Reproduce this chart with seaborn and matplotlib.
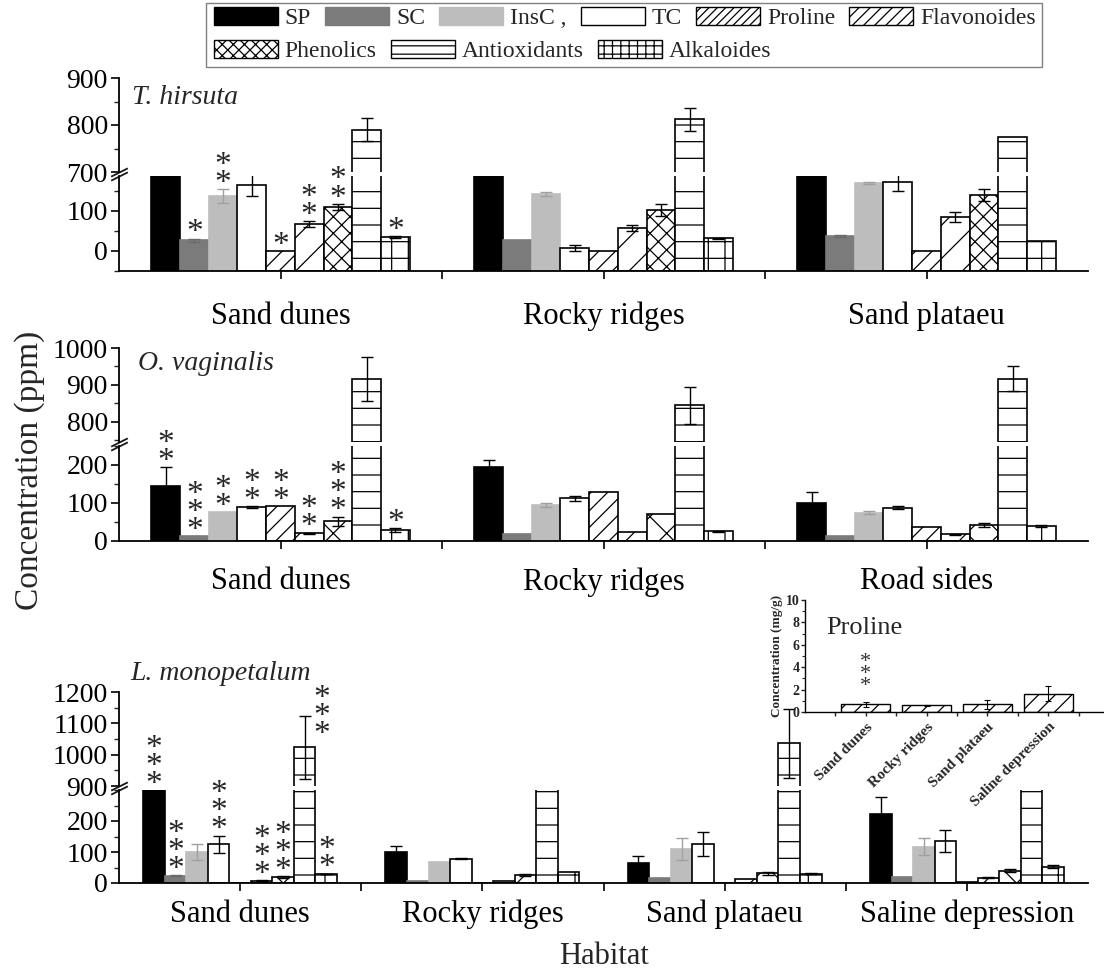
import numpy as np
import pandas as pd
import matplotlib
matplotlib.use("Agg")
import matplotlib.pyplot as plt
import seaborn as sns
from matplotlib.patches import Patch, Rectangle
from matplotlib.ticker import MultipleLocator

# ---------------- data ----------------
variables = ["SP", "SC", "InsC", "TC", "Proline", "Flavonoides",
             "Phenolics", "Antioxidants", "Alkaloides"]
legend_labels = ["SP", "SC", "InsC ,", "TC", "Proline", "Flavonoides",
                 "Phenolics", "Antioxidants", "Alkaloides"]

# T. hirsuta
habitats_th = ["Sand dunes", "Rocky ridges", "Sand plataeu"]
th_SP = [300, 300, 300]
th_SC = [27, 27, 37]
th_InsC = [137, 142, 170]
th_TC = [165, 8, 172]
th_Proline = [0, 1, 0]
th_Flav = [67, 57, 85]
th_Phen = [110, 102, 140]
th_Antiox = [790, 812, 775]
th_Alk = [35, 32, 25]
th_SP_err = [0, 0, 0]
th_SC_err = [4, 0, 2]
th_InsC_err = [18, 5, 2]
th_TC_err = [28, 8, 22]
th_Proline_err = [0, 0, 0]
th_Flav_err = [7, 8, 12]
th_Phen_err = [8, 15, 15]
th_Antiox_err = [25, 25, 0]
th_Alk_err = [2, 1, 0]

# O. vaginalis
habitats_ov = ["Sand dunes", "Rocky ridges", "Road sides"]
ov_SP = [145, 195, 100]
ov_SC = [13, 18, 13]
ov_InsC = [76, 95, 75]
ov_TC = [89, 112, 88]
ov_Proline = [92, 128, 37]
ov_Flav = [20, 23, 18]
ov_Phen = [52, 70, 42]
ov_Antiox = [915, 845, 917]
ov_Alk = [29, 26, 40]
ov_SP_err = [50, 18, 28]
ov_SC_err = [0, 0, 0]
ov_InsC_err = [0, 6, 3]
ov_TC_err = [3, 7, 4]
ov_Proline_err = [0, 0, 0]
ov_Flav_err = [2, 0, 1]
ov_Phen_err = [12, 0, 5]
ov_Antiox_err = [60, 50, 35]
ov_Alk_err = [5, 1, 2]

# L. monopetalum
habitats_lm = ["Sand dunes", "Rocky ridges", "Sand plataeu", "Saline depression"]
lm_SP = [500, 101, 66, 221]
lm_SC = [23, 8, 16, 18]
lm_InsC = [100, 67, 110, 117]
lm_TC = [125, 78, 126, 135]
lm_Proline = [0, 0, 0, 4]
lm_Flav = [8, 7, 13, 17]
lm_Phen = [18, 27, 31, 40]
lm_Antiox = [1023, 600, 1037, 600]
lm_Alk = [29, 34, 30, 53]
lm_SP_err = [0, 18, 20, 55]
lm_SC_err = [2, 0, 0, 0]
lm_InsC_err = [27, 0, 35, 28]
lm_TC_err = [28, 2, 40, 35]
lm_Proline_err = [0, 0, 0, 0]
lm_Flav_err = [1, 0, 0, 2]
lm_Phen_err = [3, 3, 4, 4]
lm_Antiox_err = [100, 0, 110, 0]
lm_Alk_err = [1, 0, 1, 5]

# Inset: proline (mg/g) for L. monopetalum
inset_habitats = ["Sand dunes", "Rocky ridges", "Sand plataeu", "Saline depression"]
inset_proline = [0.69, 0.6, 0.69, 1.64]
inset_proline_err = [0.2, 0.05, 0.4, 0.7]

# significance stars: (habitat, variable, number of stars)
stars_th = [("Sand dunes", "SC", 1), ("Sand dunes", "InsC", 2), ("Sand dunes", "Proline", 1),
            ("Sand dunes", "Flavonoides", 2), ("Sand dunes", "Phenolics", 2),
            ("Sand dunes", "Alkaloides", 1)]
stars_ov = [("Sand dunes", "SP", 2), ("Sand dunes", "SC", 3), ("Sand dunes", "InsC", 2),
            ("Sand dunes", "TC", 2), ("Sand dunes", "Proline", 2), ("Sand dunes", "Flavonoides", 2),
            ("Sand dunes", "Phenolics", 3), ("Sand dunes", "Alkaloides", 1)]
stars_lm = [("Sand dunes", "SP", 3), ("Sand dunes", "SC", 3), ("Sand dunes", "TC", 3),
            ("Sand dunes", "Flavonoides", 3), ("Sand dunes", "Phenolics", 3),
            ("Sand dunes", "Antioxidants", 3), ("Sand dunes", "Alkaloides", 2)]
stars_inset = [("Sand dunes", 3)]

# ---------------- style ----------------
sns.set_theme(style="ticks")
plt.rcParams["font.family"] = ["Liberation Serif", "DejaVu Serif"]
plt.rcParams["hatch.linewidth"] = 0.9
plt.rcParams["axes.linewidth"] = 1.3
plt.rcParams["axes.edgecolor"] = "black"

styles = {
    "SP": dict(fc="black", ec="black", hatch=None, err="black"),
    "SC": dict(fc="#7b7b7b", ec="#7b7b7b", hatch=None, err="#6a6a6a"),
    "InsC": dict(fc="#bdbdbd", ec="#bdbdbd", hatch=None, err="#a0a0a0"),
    "TC": dict(fc="white", ec="black", hatch=None, err="black"),
    "Proline": dict(fc="white", ec="black", hatch="//", err="black"),
    "Flavonoides": dict(fc="white", ec="black", hatch="/", err="black"),
    "Phenolics": dict(fc="white", ec="black", hatch="xx", err="black"),
    "Antioxidants": dict(fc="white", ec="black", hatch="-", err="black"),
    "Alkaloides": dict(fc="white", ec="black", hatch="+", err="black"),
}
palette = {v: styles[v]["fc"] for v in variables}

W, H = 1104, 973
fig = plt.figure(figsize=(W / 100, H / 100), dpi=100)
fig.patch.set_facecolor("white")

XL, XR = 119, 1088
STAR_FS = 24
STAR_LS = 0.47


def add_ax(x0, x1, y0, y1):
    return fig.add_axes([x0 / W, 1 - y1 / H, (x1 - x0) / W, (y1 - y0) / H])


def build_df(habitats, vals):
    rows = []
    for v in variables:
        for i, h in enumerate(habitats):
            rows.append({"Habitat": h, "Variable": v, "Value": vals[v][i]})
    return pd.DataFrame(rows)


def style_patches(ax, phen_hatch, from_bottom=None):
    step = 0.8 / len(variables)
    centers = {}
    for p in ax.patches:
        xc = p.get_x() + p.get_width() / 2
        hi = int(round(xc))
        j = int(round((xc - hi + 0.4) / step - 0.5))
        var = variables[j]
        st = styles[var]
        p.set_facecolor(st["fc"])
        p.set_edgecolor(st["ec"])
        p.set_linewidth(1.2)
        hatch = phen_hatch if var == "Phenolics" else st["hatch"]
        if hatch:
            p.set_hatch(hatch)
        if from_bottom is not None:
            p.set_y(from_bottom)
            p.set_height(p.get_height() - from_bottom)
        centers[(hi, var)] = xc
    return centers


def draw_panel(ax_up, ax_lo, habitats, vals, errs, ylim_up, ylim_lo, up_major,
               lo_major, stars, phen_hatch="x", bars_from_bottom=False, label_pad=9):
    df = build_df(habitats, vals)
    n = len(habitats)
    centers = None
    for ax, ylim in ((ax_up, ylim_up), (ax_lo, ylim_lo)):
        sns.barplot(data=df, x="Habitat", y="Value", hue="Variable", order=habitats,
                    hue_order=variables, palette=palette, width=0.8, saturation=1,
                    errorbar=None, legend=False, ax=ax)
        fb = ylim_lo[0] if (bars_from_bottom and ax is ax_lo) else None
        centers = style_patches(ax, phen_hatch, fb)
        for var in variables:
            xs, ys, es = [], [], []
            for i in range(n):
                if errs[var][i] > 0:
                    xs.append(centers[(i, var)])
                    ys.append(vals[var][i])
                    es.append(errs[var][i])
            if xs:
                ax.errorbar(xs, ys, yerr=es, fmt="none", ecolor=styles[var]["err"],
                            elinewidth=1.0, capsize=4, capthick=1.0, zorder=5)
        ax.set_xlim(-0.5, n - 0.5)
        ax.set_ylim(*ylim)
        ax.set_xlabel("")
        ax.set_ylabel("")
        ax.spines["top"].set_visible(False)
        ax.spines["right"].set_visible(False)
        ax.yaxis.set_minor_locator(MultipleLocator(50))
        ax.tick_params(axis="y", which="major", direction="out", length=6, width=1.2,
                       labelsize=20, pad=2, colors="black")
        ax.tick_params(axis="y", which="minor", direction="out", length=3.5, width=1.0)
        ax.set_facecolor("none")
    ax_up.set_yticks(up_major)
    ax_lo.set_yticks(lo_major)
    ax_up.spines["bottom"].set_visible(False)
    ax_up.tick_params(axis="x", which="both", bottom=False, labelbottom=False)
    ax_lo.set_xticks(range(n))
    ax_lo.set_xticklabels(habitats)
    ax_lo.set_xticks([i + 0.5 for i in range(n - 1)], minor=True)
    ax_lo.tick_params(axis="x", which="both", direction="out", length=6, width=1.2,
                      labelsize=22, pad=label_pad, colors="black")
    # break marks
    d = dict(marker=[(-1, -0.5), (1, 0.5)], markersize=12, linestyle="none",
             color="k", mec="k", mew=1.3, clip_on=False)
    ax_lo.plot([0], [1], transform=ax_lo.transAxes, **d)
    ax_up.plot([0], [0], transform=ax_up.transAxes, **d)
    # stars
    step = 0.8 / len(variables)
    for hab, var, k in stars:
        i = habitats.index(hab)
        v = vals[var][i]
        e = errs[var][i]
        txt = "\n".join(["*"] * k)
        xc = centers[(i, var)]
        if v >= ylim_up[0]:
            ax_up.annotate(txt, (xc + step * 0.8, v), xytext=(0, -2),
                           textcoords="offset points", ha="center", va="bottom",
                           fontsize=STAR_FS, linespacing=STAR_LS, annotation_clip=False)
        else:
            top = min(v + e, ylim_lo[1])
            ax_lo.annotate(txt, (xc, top), xytext=(0, -7), textcoords="offset points",
                           ha="center", va="bottom", fontsize=STAR_FS, linespacing=STAR_LS,
                           annotation_clip=False)


def pack(prefix_vals):
    return dict(zip(variables, prefix_vals))


# ---------------- panels ----------------
th_vals = pack([th_SP, th_SC, th_InsC, th_TC, th_Proline, th_Flav, th_Phen, th_Antiox, th_Alk])
th_errs = pack([th_SP_err, th_SC_err, th_InsC_err, th_TC_err, th_Proline_err, th_Flav_err,
                th_Phen_err, th_Antiox_err, th_Alk_err])
ov_vals = pack([ov_SP, ov_SC, ov_InsC, ov_TC, ov_Proline, ov_Flav, ov_Phen, ov_Antiox, ov_Alk])
ov_errs = pack([ov_SP_err, ov_SC_err, ov_InsC_err, ov_TC_err, ov_Proline_err, ov_Flav_err,
                ov_Phen_err, ov_Antiox_err, ov_Alk_err])
lm_vals = pack([lm_SP, lm_SC, lm_InsC, lm_TC, lm_Proline, lm_Flav, lm_Phen, lm_Antiox, lm_Alk])
lm_errs = pack([lm_SP_err, lm_SC_err, lm_InsC_err, lm_TC_err, lm_Proline_err, lm_Flav_err,
                lm_Phen_err, lm_Antiox_err, lm_Alk_err])

ax1u = add_ax(XL, XR, 78, 172)
ax1l = add_ax(XL, XR, 176, 271)
draw_panel(ax1u, ax1l, habitats_th, th_vals, th_errs, (700, 900), (-50, 187.5),
           [700, 800, 900], [0, 100], stars_th, phen_hatch="xx", bars_from_bottom=True,
           label_pad=16)

ax2u = add_ax(XL, XR, 348, 442)
ax2l = add_ax(XL, XR, 446, 541)
draw_panel(ax2u, ax2l, habitats_ov, ov_vals, ov_errs, (745, 1000), (0, 250),
           [800, 900, 1000], [0, 100, 200], stars_ov, phen_hatch="x", label_pad=13)

ax3u = add_ax(XL, XR, 692, 786)
ax3l = add_ax(XL, XR, 790, 883)
draw_panel(ax3u, ax3l, habitats_lm, lm_vals, lm_errs, (900, 1200), (0, 300),
           [900, 1000, 1100, 1200], [0, 100, 200], stars_lm, phen_hatch="x", label_pad=6)

# species names
fig.text(132 / W, 1 - 98 / H, "T. hirsuta", style="italic", fontsize=20, va="center", ha="left")
fig.text(138 / W, 1 - 363 / H, "O. vaginalis", style="italic", fontsize=20, va="center", ha="left")
fig.text(130 / W, 1 - 674 / H, "L. monopetalum", style="italic", fontsize=20, va="center", ha="left")

# axis titles
fig.text(30 / W, 1 - 470 / H, "Concentration (ppm)", rotation=90, fontsize=24,
         va="center", ha="center")
fig.text((XL + XR) / 2 / W, 1 - 957 / H, "Habitat", fontsize=22, va="center", ha="center")

# ---------------- inset ----------------
axi = add_ax(805, 1103, 600, 712)
sns.barplot(x=inset_habitats, y=inset_proline, color="white", width=0.8, saturation=1,
            errorbar=None, ax=axi)
for p in axi.patches:
    p.set_facecolor("white")
    p.set_edgecolor("black")
    p.set_linewidth(1.0)
    p.set_hatch("//")
icenters = [p.get_x() + p.get_width() / 2 for p in axi.patches]
axi.errorbar(icenters, inset_proline, yerr=inset_proline_err, fmt="none", ecolor="black",
             elinewidth=0.8, capsize=2.5, capthick=0.8, zorder=5)
axi.set_xlim(-1.0, 3.9)
axi.set_ylim(0, 10)
axi.set_yticks([0, 2, 4, 6, 8, 10])
axi.yaxis.set_minor_locator(MultipleLocator(1))
axi.set_xticks(range(len(inset_habitats)))
axi.set_xticklabels(inset_habitats, rotation=45, ha="right", rotation_mode="anchor",
                    fontweight="bold", fontsize=11)
axi.set_xticks([i + 0.5 for i in range(-1, len(inset_habitats))], minor=True)
for lab in axi.get_yticklabels():
    lab.set_fontweight("bold")
axi.tick_params(axis="y", which="major", direction="out", length=3, width=1, labelsize=10, pad=1)
axi.tick_params(axis="y", which="minor", direction="out", length=2, width=0.8)
axi.tick_params(axis="x", which="both", direction="out", length=3, width=1, pad=3)
axi.spines["top"].set_visible(False)
axi.spines["right"].set_visible(False)
axi.spines["left"].set_linewidth(1.0)
axi.spines["bottom"].set_linewidth(1.0)
axi.set_facecolor("none")
axi.set_xlabel("")
axi.set_ylabel("Concentration (mg/g)", fontsize=9.5, fontweight="bold", labelpad=2)
axi.text(0.07, 0.75, "Proline", transform=axi.transAxes, fontsize=19, ha="left", va="center")
for hab, k in stars_inset:
    i = inset_habitats.index(hab)
    axi.annotate("\n".join(["*"] * k), (icenters[i], inset_proline[i] + inset_proline_err[i]),
                 xytext=(0, 4), textcoords="offset points", ha="center", va="bottom",
                 fontsize=16, linespacing=0.5, color="#333333")

# ---------------- legend ----------------
legend_hatch = {"Proline": "////", "Flavonoides": "///", "Phenolics": "xxx",
                "Antioxidants": "--", "Alkaloides": "++"}
handles = []
for v in variables:
    st = styles[v]
    h = legend_hatch.get(v, st["hatch"])
    handles.append(Patch(facecolor=st["fc"], edgecolor=st["ec"] if v not in ("SC", "InsC") else st["fc"],
                         hatch=h, linewidth=1.0))
leg_kw = dict(loc="upper left", frameon=False, fontsize=17, handlelength=2.7, handleheight=0.8,
              handletextpad=0.3, columnspacing=0.6, borderpad=0, borderaxespad=0)
leg1 = fig.legend(handles[:6], legend_labels[:6], ncol=6,
                  bbox_to_anchor=(214 / W, 1 - 7 / H), **leg_kw)
leg2 = fig.legend(handles[6:], legend_labels[6:], ncol=3,
                  bbox_to_anchor=(214 / W, 1 - 40 / H), **leg_kw)
fig.canvas.draw()
r = fig.canvas.get_renderer()
b1 = leg1.get_window_extent(r)
b2 = leg2.get_window_extent(r)
x0 = min(b1.x0, b2.x0) - 8
x1 = max(b1.x1, b2.x1) + 6
y0 = min(b1.y0, b2.y0) - 5
y1 = max(b1.y1, b2.y1) + 4
fig.patches.append(Rectangle((x0 / W, y0 / H), (x1 - x0) / W, (y1 - y0) / H,
                             transform=fig.transFigure, fill=False, edgecolor="#808080",
                             linewidth=1.0))

fig.savefig("out.png", dpi=100, facecolor="white")
